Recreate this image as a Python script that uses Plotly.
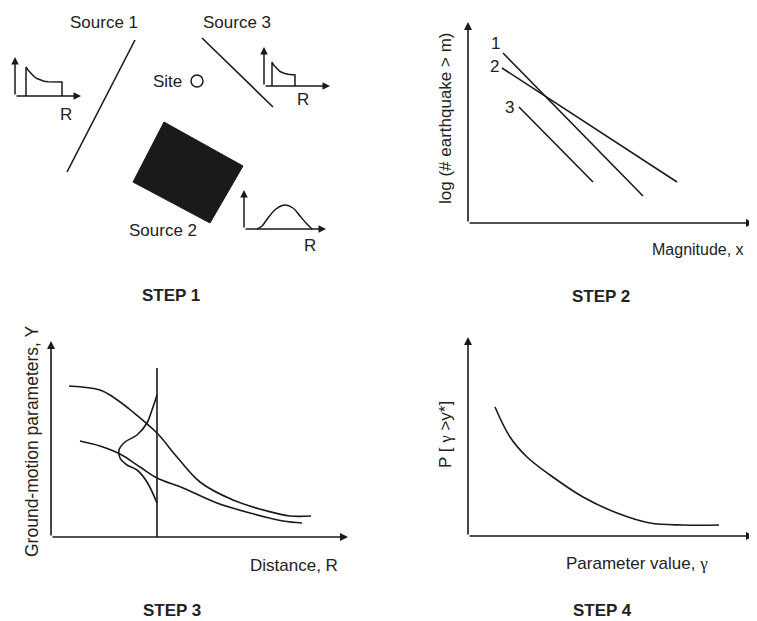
import plotly.graph_objects as go

W, H = 757, 621
OFF = 8  # browser body margin
INK = "#1a1a1a"
TXT = "#222222"
FONT = "Liberation Sans, Arial, sans-serif"

# ---------------- STEP 1 : source map ----------------
source1_x = [135, 67]
source1_y = [40, 172]
source3_x = [202, 273]
source3_y = [38, 107]
source2_x = [164, 243, 210, 133, 164]
source2_y = [122, 166, 223, 182, 122]
site_x = [197]
site_y = [81]

# small distance-pdf sketches
pdf1_x = [26, 26, 28, 31, 34, 37, 40, 44, 48, 53, 62, 62]
pdf1_y = [96, 67, 70, 73.5, 76.5, 78.5, 80, 81.2, 81.8, 82, 82, 96]
pdf3_x = [272, 272, 274, 277, 280, 284, 288, 295, 295]
pdf3_y = [86, 62, 65.5, 69, 71.5, 73.2, 74.3, 75, 86]
pdf2_x = [257, 262, 268, 276, 285, 293, 300, 306, 312]
pdf2_y = [229, 226, 218, 209, 205, 208, 216, 223, 229]

# ---------------- STEP 2 : recurrence lines ----------------
rec1_x = [503, 643]
rec1_y = [53, 196]
rec2_x = [502, 677]
rec2_y = [68, 182]
rec3_x = [519, 593]
rec3_y = [107, 182]
rec_labels = ["1", "2", "3"]
rec_label_x = [495, 494, 509]
rec_label_y = [43, 66, 107]

# ---------------- STEP 3 : attenuation ----------------
att_up_x = [69, 100, 113, 133, 157, 177, 200, 233, 267, 290, 311]
att_up_y = [386, 390, 397, 412, 433, 457, 482, 500, 511, 516, 516]
att_lo_x = [80, 100, 120, 140, 157, 183, 217, 250, 283, 302]
att_lo_y = [441, 446, 454, 467, 478, 488, 503, 513, 521, 523]
scatter_x = [157, 152, 147, 137, 125, 119, 120, 127, 137, 147, 157]
scatter_y = [395, 410, 423, 435, 442, 450, 458, 465, 470, 482, 503]
cut_x = [157, 157]
cut_y = [368, 537]

# ---------------- STEP 4 : hazard curve ----------------
haz_x = [495, 510, 527, 550, 583, 617, 650, 683, 719]
haz_y = [407, 437, 457, 475, 497, 513, 523, 525, 525]

step_labels = ["STEP 1", "STEP 2", "STEP 3", "STEP 4"]
step_x = [171, 601, 172, 602]
step_y = [295, 296, 610, 610]

fig = go.Figure()

def line(x, y, w=1.6, shape="linear", fill=None):
    fig.add_trace(go.Scatter(x=x, y=y, mode="lines", line=dict(color=INK, width=w, shape=shape),
                             fill=fill, fillcolor=INK if fill else None, hoverinfo="skip",
                             showlegend=False))

# step 1
line(source1_x, source1_y)
line(source3_x, source3_y)
line(source2_x, source2_y, w=1, fill="toself")
fig.add_trace(go.Scatter(x=site_x, y=site_y, mode="markers",
                         marker=dict(symbol="circle-open", size=12, color=INK, line=dict(width=1.5)),
                         hoverinfo="skip", showlegend=False))
line(pdf1_x, pdf1_y, w=1.5)
line(pdf3_x, pdf3_y, w=1.5)
line(pdf2_x, pdf2_y, w=1.5, shape="spline")

# step 2
line(rec1_x, rec1_y)
line(rec2_x, rec2_y)
line(rec3_x, rec3_y)

# step 3
line(att_up_x, att_up_y, shape="spline")
line(att_lo_x, att_lo_y, shape="spline")
line(scatter_x, scatter_y, shape="spline")
line(cut_x, cut_y)

# step 4
line(haz_x, haz_y, shape="spline")

ann = []

def arrow(x0, y0, x1, y1, w=1.6, size=1.0):
    ann.append(dict(x=x1, y=y1, ax=x0, ay=y0, xref="x", yref="y", axref="x", ayref="y",
                    text="", showarrow=True, arrowhead=2, arrowsize=size, arrowwidth=w,
                    arrowcolor=INK, standoff=0, startstandoff=0))

small_axes = [
    (15, 96, 15, 57), (15, 96, 81, 96),
    (264, 86, 264, 47), (264, 86, 330, 86),
    (244, 229, 244, 190), (244, 229, 326, 229),
]
for a in small_axes:
    arrow(*a, w=1.5, size=1.0)
main_axes = [
    (468, 223, 468, 22), (468, 223, 754, 223),
    (51, 537, 51, 341), (51, 537, 348, 537),
    (468, 536, 468, 337), (468, 536, 754, 536),
]
for a in main_axes:
    arrow(*a, w=1.6, size=1.0)

def text(s, x, y, size=17, bold=False, angle=0, xanchor="center"):
    ann.append(dict(x=x, y=y, xref="x", yref="y", text=f"<b>{s}</b>" if bold else s,
                    showarrow=False, textangle=angle,
                    font=dict(family=FONT, size=size, color=TXT),
                    xanchor=xanchor, yanchor="middle"))

text("Source 1", 104, 22)
text("Source 3", 237, 22)
text("Site", 167, 81)
text("Source 2", 163, 230)
text("R", 66, 114)
text("R", 303, 99)
text("R", 310, 245)

for s, x, y in zip(rec_labels, rec_label_x, rec_label_y):
    text(s, x, y)

text("log (# earthquake &gt; m)", 445, 118, angle=-90)
text("Magnitude, x", 746, 249, size=16, xanchor="right")
text("Ground-motion parameters, Y", 32, 441, size=17.5, angle=-90)
text("Distance, R", 294, 565)
text("P [ <span style='font-family:Liberation Serif'>γ</span> &gt;y*]", 445, 435, angle=-90)
text("Parameter value, <span style='font-family:Liberation Serif'>γ</span>", 637, 563)

for s, x, y in zip(step_labels, step_x, step_y):
    text(s, x, y, bold=True)

fig.update_layout(
    width=W - OFF, height=H - OFF,
    margin=dict(l=0, r=0, t=0, b=0, pad=0),
    paper_bgcolor="white", plot_bgcolor="white",
    xaxis=dict(range=[OFF, W], visible=False, fixedrange=True),
    yaxis=dict(range=[H, OFF], visible=False, fixedrange=True),
    annotations=ann,
    showlegend=False,
)

fig.write_html("out.html")
